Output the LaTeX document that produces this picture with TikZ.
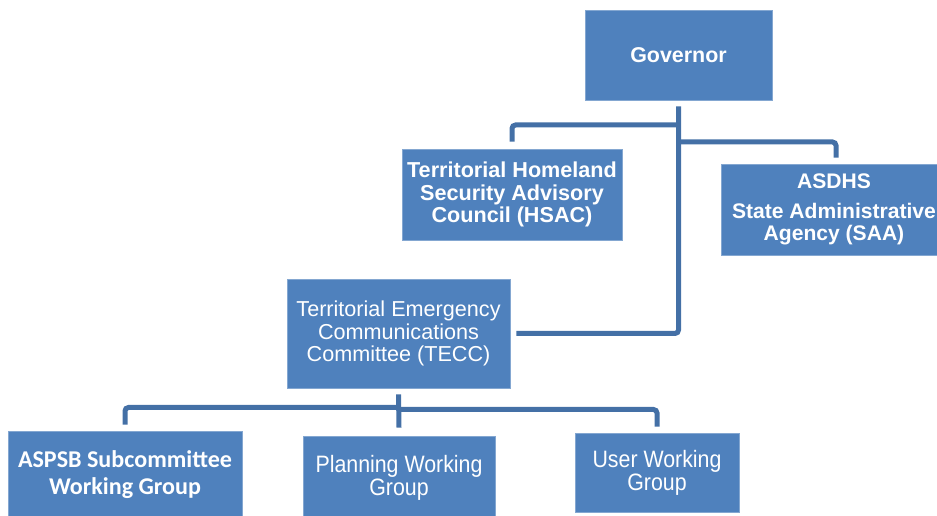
\documentclass[tikz,border=0pt]{standalone}
\usepackage{fontspec}
\setmainfont{Liberation Sans}
\newfontfamily\calfont{Carlito}
\newfontfamily\narrowfont[FakeStretch=0.9]{Liberation Sans}
\usetikzlibrary{positioning}
\definecolor{boxblue}{HTML}{4F81BD}
\definecolor{lineblue}{HTML}{4470A6}

\begin{document}
\begin{tikzpicture}[x=0.02cm,y=-0.02cm,semithick]

  \tikzstyle{unit}=[rectangle,fill=boxblue,draw=boxblue!70!white,thin,text=white,align=center,
                    inner sep=0pt,font=\fontsize{12.3}{12.6}\selectfont]
  \tikzstyle{link}=[draw=lineblue,line width=0.1cm,rounded corners=2pt]

  \clip (0,0) rectangle (937,516);

  \node[unit,font=\bfseries\fontsize{12.2}{12.6}\selectfont,minimum width=3.74cm,minimum height=1.8cm]
       (GOV)  at (678.5,55)  {Governor};
  \node[unit,font=\bfseries\fontsize{12.3}{12.6}\selectfont,minimum width=4.4cm,minimum height=1.82cm]
       (HSAC) at (512,194.5) {Territorial Homeland \\ Security Advisory \\ Council (HSAC)};
  \node[unit,font=\bfseries\fontsize{12}{12.6}\selectfont,minimum width=4.52cm,minimum height=1.82cm]
       (SAA)  at (834,209.5) {ASDHS \\[0.14cm] State Administrative \\ Agency (SAA)};
  \node[unit,minimum width=4.46cm,minimum height=2.18cm]
       (TECC) at (398.5,333.5) {Territorial Emergency \\ Communications \\ Committee (TECC)};

  \node[unit,font=\calfont\bfseries\fontsize{13.7}{15.3}\selectfont,minimum width=4.68cm,minimum height=1.74cm]
       (ASPSB) at (125,474.5) {ASPSB Subcommittee \\ Working Group};
  \node[unit,font=\narrowfont\fontsize{13.5}{13}\selectfont,minimum width=3.84cm,minimum height=1.66cm]
       (PWG)  at (399,477.5) {Planning Working \\ Group};
  \node[unit,font=\narrowfont\fontsize{13.5}{13}\selectfont,minimum width=3.28cm,minimum height=1.58cm]
       (UWG)  at (657,472.5) {User Working \\ Group};

  \coordinate (hsacj)  at (678.5,125);
  \coordinate (saaj)   at (678.5,142);
  \coordinate (leftj)  at (398.5,407.5);
  \coordinate (rightj) at (398.5,409.5);

  % governor down to the committee
  \path[link] ([yshift=-0.12cm]GOV.south) |- ([xshift=0.12cm]TECC.east);
  \path[link] (hsacj) -| ([yshift=0.14cm]HSAC.north);
  \path[link] (saaj)  -| ([xshift=0.04cm,yshift=0.12cm]SAA.north);

  % committee down to the groups
  \path[link] ([yshift=-0.12cm]TECC.south) -- ([yshift=0.16cm]PWG.north);
  \path[link] (leftj)  -| ([yshift=0.12cm]ASPSB.north);
  \path[link] (rightj) -| ([yshift=0.12cm]UWG.north);
\end{tikzpicture}
\end{document}
